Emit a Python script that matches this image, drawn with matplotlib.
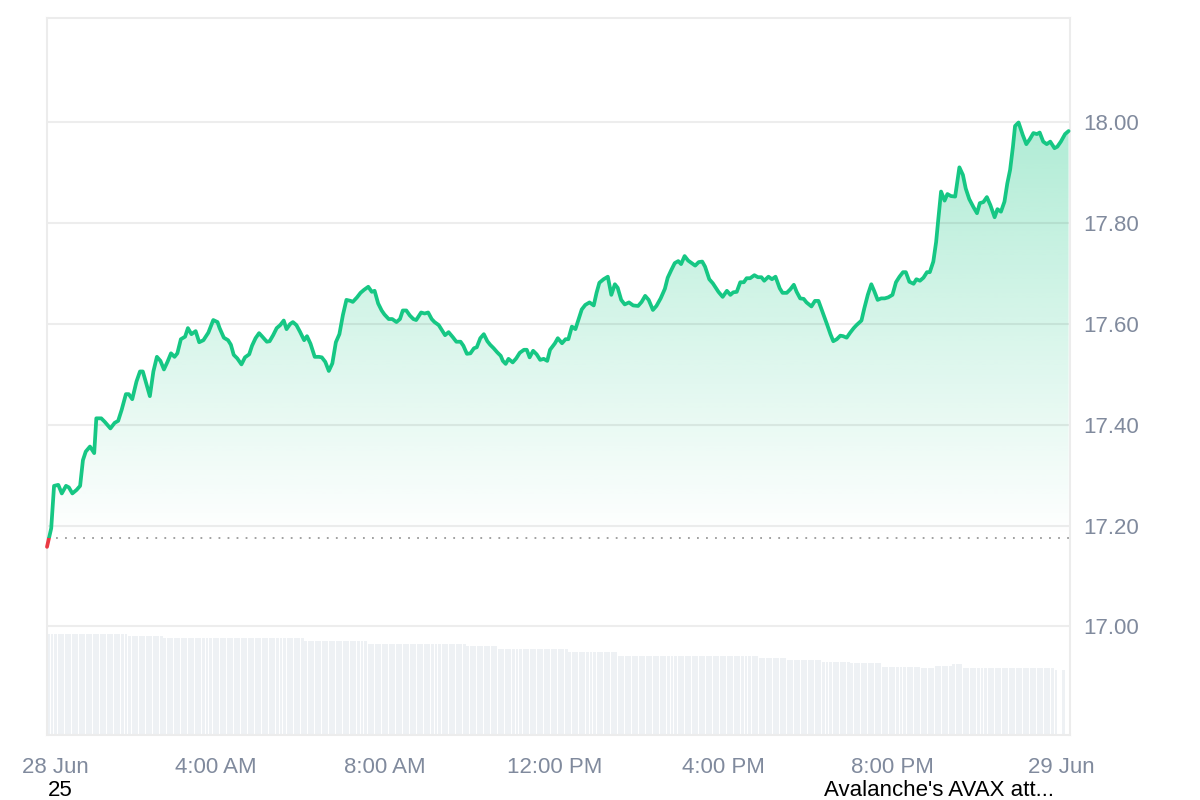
import numpy as np
import matplotlib
matplotlib.use("Agg")
import matplotlib.pyplot as plt
from matplotlib.patches import Rectangle
from matplotlib.colors import to_rgb
import matplotlib.transforms as mtransforms

# ---------------- data ----------------
minutes = [0, 6, 10, 16, 21, 27, 31, 36, 42, 47, 51, 55, 61, 67, 70, 77, 82, 90, 96, 101,
           106, 112, 116, 121, 127, 132, 136, 146, 151, 156, 161, 166, 171, 176, 181, 185, 190, 196, 200, 205,
           211, 216, 222,
           229, 236, 242, 245, 251, 257, 261, 265, 270, 276, 281, 287, 291, 296, 301, 305, 312, 316, 321, 326,
           331, 336, 340, 345, 349, 354, 359, 365, 369, 374, 380, 386, 390, 395, 400, 405, 410, 415, 420, 425,
           431, 434, 440, 445, 450, 456, 461,
           465, 470, 475, 479, 485, 490, 496, 501, 505, 510, 515, 520, 524, 531, 536, 541, 546, 550, 556, 561,
           565, 570, 576, 581, 587, 591, 596, 601, 606, 610, 615, 620, 625, 629, 634, 639, 644, 647, 651, 655,
           661, 666, 671, 677, 681, 685, 690, 695, 700, 705, 710, 714,
           721, 725, 731, 736, 740, 745, 750, 755, 759, 764, 770, 776, 780, 784, 790, 796, 801, 806, 810, 815,
           820, 826, 832, 839, 844, 849, 854, 860, 865, 871, 877, 881, 886, 891, 896, 900, 905, 910, 915, 920,
           925, 930, 934, 940, 945,
           953, 959, 965, 970, 974, 979, 984, 989, 993, 998, 1004, 1009, 1014, 1018, 1024, 1029, 1034, 1040, 1044, 1050,
           1055, 1060, 1064, 1069, 1074, 1078, 1085, 1090, 1095, 1101, 1107, 1112, 1116, 1121, 1126, 1130, 1135, 1140,
           1145, 1149, 1156, 1160, 1165, 1170, 1174, 1179, 1184,
           1189, 1194, 1200, 1205, 1210, 1215, 1219, 1224, 1230, 1234, 1239, 1244, 1249, 1253, 1258, 1262, 1265, 1269,
           1274, 1278, 1283, 1289, 1295, 1300, 1304, 1309, 1315, 1320, 1324, 1329, 1334, 1339, 1345, 1349, 1354, 1359,
           1363, 1367, 1371, 1374, 1379, 1385, 1390, 1395, 1400, 1405, 1409, 1414, 1419, 1424, 1430, 1434, 1439, 1445, 1450]

prices = [17.158, 17.195, 17.279, 17.281, 17.264, 17.279, 17.276, 17.264, 17.271, 17.279,
          17.330, 17.347, 17.357, 17.344, 17.413, 17.413, 17.406, 17.393, 17.404, 17.408,
          17.430, 17.461, 17.461, 17.451, 17.486, 17.506, 17.506, 17.457, 17.506, 17.535,
          17.527, 17.510, 17.525, 17.542, 17.535, 17.542, 17.570, 17.575, 17.592, 17.580,
          17.586, 17.564, 17.568,
          17.583, 17.608, 17.604, 17.592, 17.573, 17.568, 17.559, 17.539, 17.532, 17.520,
          17.534, 17.540, 17.557, 17.572, 17.582, 17.576, 17.565, 17.566, 17.578, 17.592,
          17.598, 17.607, 17.590, 17.600, 17.604, 17.598, 17.585, 17.568, 17.576, 17.561,
          17.535, 17.535, 17.534, 17.525, 17.507, 17.522, 17.564, 17.580, 17.618, 17.648,
          17.646, 17.644, 17.653, 17.662, 17.668, 17.674, 17.664,
          17.666, 17.641, 17.627, 17.619, 17.610, 17.610, 17.604, 17.610, 17.627, 17.627,
          17.617, 17.610, 17.608, 17.623, 17.621, 17.623, 17.610, 17.604, 17.598, 17.587,
          17.578, 17.584, 17.574, 17.565, 17.565, 17.557, 17.541, 17.542, 17.552, 17.554,
          17.572, 17.580, 17.566, 17.559, 17.552, 17.544, 17.537, 17.527, 17.521, 17.531,
          17.524, 17.532, 17.543, 17.549, 17.549, 17.534, 17.547, 17.540, 17.529, 17.531,
          17.527, 17.549,
          17.562, 17.572, 17.562, 17.570, 17.570, 17.595, 17.590, 17.612, 17.629, 17.638,
          17.643, 17.637, 17.662, 17.682, 17.689, 17.694, 17.658, 17.679, 17.672, 17.648,
          17.639, 17.643, 17.637, 17.636, 17.644, 17.656, 17.648, 17.628, 17.636, 17.651,
          17.670, 17.692, 17.707, 17.721, 17.725, 17.719, 17.735, 17.726, 17.721, 17.716,
          17.723, 17.724, 17.714, 17.689, 17.681,
          17.664, 17.654, 17.666, 17.658, 17.663, 17.664, 17.683, 17.683, 17.691, 17.691,
          17.697, 17.693, 17.693, 17.686, 17.694, 17.689, 17.694, 17.671, 17.662, 17.662,
          17.669, 17.678, 17.664, 17.651, 17.650, 17.643, 17.635, 17.646, 17.646, 17.623,
          17.600, 17.580, 17.566, 17.570, 17.577, 17.576, 17.573, 17.583, 17.592, 17.598,
          17.607, 17.631, 17.658, 17.679, 17.666, 17.648, 17.651,
          17.651, 17.653, 17.658, 17.683, 17.694, 17.703, 17.703, 17.684, 17.680, 17.689,
          17.686, 17.692, 17.703, 17.703, 17.724, 17.763, 17.807, 17.863, 17.845, 17.858,
          17.854, 17.853, 17.911, 17.896, 17.869, 17.848, 17.832, 17.820, 17.840, 17.842,
          17.852, 17.836, 17.812, 17.828, 17.823, 17.843, 17.879, 17.906, 17.952, 17.993,
          18.000, 17.975, 17.957, 17.967, 17.979, 17.977, 17.980, 17.962, 17.957, 17.962,
          17.949, 17.952, 17.962, 17.977, 17.983]

ref_price = 17.175  # dotted reference (opening) price

# 5-minute volume bars (in $M), given as levels and how many consecutive bars hold each level
vol_levels = [303, 297, 291, 282, 273, 267, 258, 249, 237, 231, 225, 219, 216, 204, 201, 207, 213, 201, 195, 0, 195]
vol_counts = [23, 10, 40, 18, 28, 9, 20, 14, 40, 8, 10, 8, 9, 11, 4, 5, 3, 26, 1, 1, 1]
vol_step_min = 5

tick_minutes = [0, 240, 480, 720, 960, 1200, 1440]
tick_labels = ["28 Jun", "4:00 AM", "8:00 AM", "12:00 PM", "4:00 PM", "8:00 PM", "29 Jun"]
y_ticks = [17.0, 17.2, 17.4, 17.6, 17.8, 18.0]

# ---------------- style ----------------
GREEN = "#16c784"
RED = "#ea3943"
LABEL = "#808a9d"
FRAME = "#ececec"
FS = 16
plt.rcParams["font.family"] = ["Liberation Sans", "DejaVu Sans"]

fig = plt.figure(figsize=(12, 8), dpi=100)
rect = [47 / 1200, 1 - 735 / 800, (1070 - 47) / 1200, (735 - 18) / 800]
XMIN, XMAX = 0, 1452
YMIN, YMAX = 16.7847, 18.2073

# volume axes (underneath)
axv = fig.add_axes(rect, zorder=0)
vols = np.repeat(vol_levels, vol_counts)
vtimes = np.arange(len(vols)) * vol_step_min
axv.bar(vtimes, vols, width=4.2, align="edge", color="#eef1f4", linewidth=0)
axv.set_xlim(XMIN, XMAX)
axv.set_ylim(0, 303 * 717 / 101)
axv.axis("off")

# price axes
ax = fig.add_axes(rect, zorder=1)
ax.set_facecolor("none")
t = np.array(minutes, dtype=float)
p = np.array(prices)

# gradient fill under the line
poly = ax.fill_between(t, p, ref_price, color="none", linewidth=0)
clip_path = poly.get_paths()[0]
n = 256
grad = np.zeros((n, 1, 4))
grad[..., :3] = to_rgb(GREEN)
grad[:, 0, 3] = np.linspace(0.0, 0.34, n)
im = ax.imshow(grad, extent=[XMIN, XMAX, ref_price, max(prices)], origin="lower",
               aspect="auto", zorder=1, interpolation="bilinear")
im.set_clip_path(clip_path, transform=ax.transData)

# reference dotted line
ax.axhline(ref_price, color="#9a9a9a", linewidth=1.3, linestyle=(0, (1, 4)), zorder=2.6)

# price line: green above reference, red below
gl, = ax.plot(t, p, color=GREEN, linewidth=2.7, zorder=3, solid_joinstyle="round", solid_capstyle="round")
gl.set_clip_path(Rectangle((-100, ref_price), 2000, 10, transform=ax.transData))
rl, = ax.plot(t, p, color=RED, linewidth=2.7, zorder=3, solid_joinstyle="round", solid_capstyle="round")
rl.set_clip_path(Rectangle((-100, ref_price - 10), 2000, 10, transform=ax.transData))

ax.set_xlim(XMIN, XMAX)
ax.set_ylim(YMIN, YMAX)

# grid
ax.set_yticks(y_ticks)
ax.set_yticklabels([f"{v:.2f}" for v in y_ticks])
ax.yaxis.tick_right()
ax.grid(axis="y", color="black", alpha=0.07, linewidth=1.5)
ax.set_axisbelow("line")

ax.set_xticks(tick_minutes)
ax.set_xticklabels(tick_labels)
ax.tick_params(axis="x", length=0, pad=16, labelsize=FS, labelcolor=LABEL)
ax.tick_params(axis="y", length=0, pad=9.5, labelsize=FS, labelcolor=LABEL)
for lab in ax.get_yticklabels():
    lab.set_verticalalignment("center_baseline")

# shift first date label right (kept inside the chart)
first = ax.get_xticklabels()[0]
first.set_transform(first.get_transform() + mtransforms.ScaledTranslation(8.5 / 100, 0, fig.dpi_scale_trans))

for s in ax.spines.values():
    s.set_color(FRAME)
    s.set_linewidth(1.5)

# footer texts
fig.text(48 / 1200, 1 - 790 / 800, "25", ha="left", va="center", fontsize=FS, color="black")
fig.text(824 / 1200, 1 - 790 / 800, "Avalanche's AVAX att...", ha="left", va="center", fontsize=FS, color="black")

fig.savefig("out.png", dpi=100, facecolor="white")
